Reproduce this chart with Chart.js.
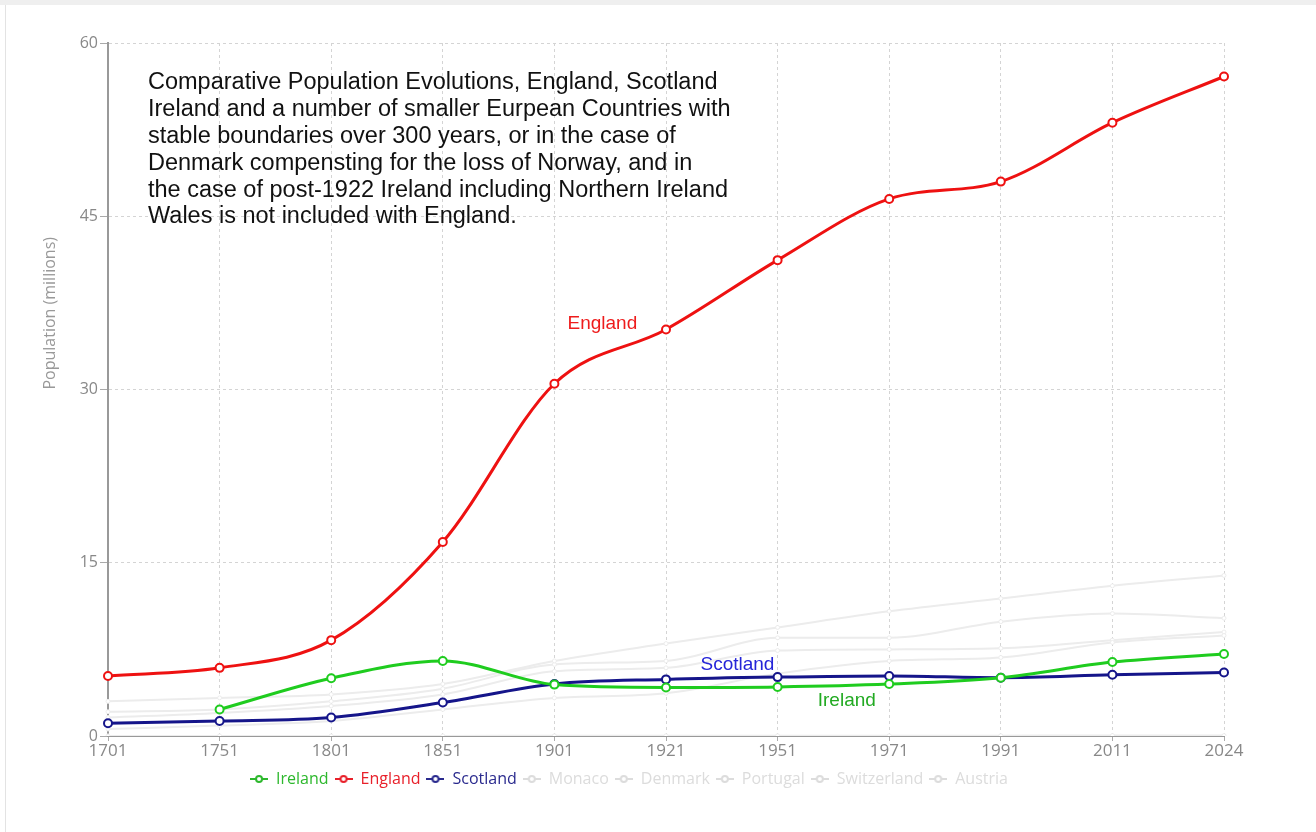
<!DOCTYPE html>
<html lang="en">
<head>
    <meta charset="UTF-8">
    <title>Comparative Population Evolutions</title>
    <script src="https://cdn.jsdelivr.net/npm/chart.js"></script>
    <style>
        body {
            margin: 0;
            padding: 0;
            background: #fff;
            font-family: 'Open Sans', sans-serif;
        }

        .top-band {
            position: absolute;
            top: 0;
            left: 0;
            width: 1316px;
            height: 5px;
            background: #efefef;
        }

        .left-line {
            position: absolute;
            top: 5px;
            left: 5px;
            width: 1px;
            height: 827px;
            background: #e3e3e3;
        }

        .chart-box {
            position: absolute;
            top: 0;
            left: 0;
            width: 1316px;
            height: 832px;
        }
    </style>
</head>
<body>
    <div class="top-band"></div>
    <div class="left-line"></div>
    <div class="chart-box">
        <canvas id="popChart" width="1316" height="832"></canvas>
    </div>

    <script>
        // census years (category axis, evenly spaced)
        const years = ['1701', '1751', '1801', '1851', '1901', '1921', '1951', '1971', '1991', '2011', '2024'];

        // population in millions
        const ireland  = [null, 2.3, 5.0, 6.5, 4.45, 4.2, 4.25, 4.5, 5.05, 6.4, 7.1];
        const england  = [5.2, 5.9, 8.3, 16.8, 30.5, 35.2, 41.2, 46.5, 48.0, 53.1, 57.1];
        const scotland = [1.1, 1.3, 1.6, 2.9, 4.5, 4.9, 5.1, 5.2, 5.05, 5.3, 5.5];
        const monaco      = [0.01, 0.01, 0.01, 0.01, 0.02, 0.02, 0.02, 0.02, 0.03, 0.04, 0.04];
        const denmark     = [3.0, 3.3, 3.6, 4.5, 6.5, 8.0, 9.4, 10.8, 11.9, 13.0, 13.9];
        const portugal    = [2.1, 2.3, 3.0, 4.1, 6.2, 6.5, 8.5, 8.5, 9.9, 10.6, 10.2];
        const switzerland = [0.6, 0.9, 1.3, 2.3, 3.3, 3.7, 5.4, 6.5, 6.8, 8.1, 8.7];
        const austria     = [1.6, 2.0, 2.6, 3.6, 5.6, 5.9, 7.4, 7.5, 7.6, 8.3, 9.0];

        const yTicks = [0, 15, 30, 45, 60];

        const titleLines = [
            'Comparative Population Evolutions, England, Scotland',
            'Ireland and a number of smaller Eurpean Countries with',
            'stable boundaries over 300 years, or in the case of',
            'Denmark compensting for the loss of Norway, and in',
            'the case of post-1922 Ireland including Northern Ireland',
            'Wales is not included with England.'
        ];

        // in-plot labels: [text, category index, value, colour]
        const lineLabels = [
            ['England', 4.43, 35.7, '#ee1c1c'],
            ['Scotland', 5.64, 6.2, '#2424d8'],
            ['Ireland', 6.62, 3.05, '#22aa22']
        ];

        const yTitle = 'Population (millions)';
        const faint = '#ececec';

        function seriesStyle(label, data, colour, legendColour, width) {
            return {
                label: label,
                data: data,
                borderColor: colour,
                backgroundColor: '#fff',
                borderWidth: width,
                pointRadius: width > 2 ? 4 : 2,
                pointBorderWidth: width > 2 ? 2 : 1,
                pointBorderColor: colour,
                pointBackgroundColor: '#fff',
                cubicInterpolationMode: 'monotone',
                spanGaps: false,
                legendColour: legendColour
            };
        }

        // little "-o-" marker used in the legend
        function legendIcon(colour) {
            const c = document.createElement('canvas');
            c.width = 18;
            c.height = 10;
            const g = c.getContext('2d');
            g.strokeStyle = colour;
            g.lineWidth = 2;
            g.beginPath();
            g.moveTo(0, 5);
            g.lineTo(18, 5);
            g.stroke();
            g.fillStyle = '#fff';
            g.beginPath();
            g.arc(9, 5, 3, 0, Math.PI * 2);
            g.fill();
            g.stroke();
            return c;
        }

        const textPlugin = {
            id: 'textPlugin',
            afterDatasetsDraw(chart) {
                const ctx = chart.ctx;
                const area = chart.chartArea;
                const x = chart.scales.x;
                const y = chart.scales.y;
                ctx.save();
                ctx.fillStyle = '#111';
                ctx.font = '23.5px "Liberation Sans", Arial, sans-serif';
                ctx.textAlign = 'left';
                ctx.textBaseline = 'middle';
                titleLines.forEach((line, i) => {
                    ctx.fillText(line, area.left + 40, area.top + 40 + i * 26.8);
                });
                ctx.font = '19px "Liberation Sans", Arial, sans-serif';
                ctx.textAlign = 'center';
                lineLabels.forEach(l => {
                    ctx.fillStyle = l[3];
                    ctx.fillText(l[0], x.getPixelForValue(l[1]), y.getPixelForValue(l[2]));
                });
                // axis title, sits a bit above the middle in the original
                ctx.translate(50, y.getPixelForValue(36.6));
                ctx.rotate(-Math.PI / 2);
                ctx.fillStyle = '#999';
                ctx.font = '16px "Open Sans", sans-serif';
                ctx.fillText(yTitle, 0, 0);
                ctx.restore();
            }
        };

        window.onload = function() {
            const ctx = document.getElementById('popChart').getContext('2d');

            window.chart = new Chart(ctx, {
                type: 'line',
                data: {
                    labels: years,
                    datasets: [
                        seriesStyle('Ireland', ireland, '#1fcc1f', '#2db82d', 3),
                        seriesStyle('England', england, '#ee1111', '#e8202a', 3),
                        seriesStyle('Scotland', scotland, '#15158a', '#2a2a8e', 3),
                        seriesStyle('Monaco', monaco, faint, '#dcdcdc', 2),
                        seriesStyle('Denmark', denmark, faint, '#dcdcdc', 2),
                        seriesStyle('Portugal', portugal, faint, '#dcdcdc', 2),
                        seriesStyle('Switzerland', switzerland, faint, '#dcdcdc', 2),
                        seriesStyle('Austria', austria, faint, '#dcdcdc', 2)
                    ]
                },
                options: {
                    responsive: false,
                    animation: false,
                    layout: {
                        padding: { top: 43, left: 34, right: 92, bottom: 35 }
                    },
                    plugins: {
                        tooltip: { enabled: false },
                        legend: {
                            position: 'bottom',
                            labels: {
                                usePointStyle: true,
                                pointStyleWidth: 18,
                                padding: 6,
                                font: { family: 'Open Sans', size: 16 },
                                generateLabels(chart) {
                                    return chart.data.datasets.map((ds, i) => ({
                                        text: ds.label,
                                        fontColor: ds.legendColour,
                                        pointStyle: legendIcon(ds.legendColour),
                                        strokeStyle: ds.legendColour,
                                        fillStyle: '#fff',
                                        lineWidth: 0,
                                        hidden: false,
                                        datasetIndex: i
                                    }));
                                }
                            }
                        }
                    },
                    scales: {
                        x: {
                            afterFit(axis) { axis.height = 29; },
                            grid: {
                                color: '#d4d4d4',
                                tickColor: '#aaa',
                                tickLength: 5
                            },
                            border: { color: '#999', width: 2, dash: [3, 3] },
                            ticks: {
                                color: '#888',
                                padding: 0,
                                maxRotation: 0,
                                autoSkip: false,
                                font: { family: 'Open Sans', size: 17 }
                            }
                        },
                        y: {
                            min: 0,
                            max: 60,
                            afterFit(axis) { axis.width = 74; },
                            afterBuildTicks(axis) {
                                axis.ticks = yTicks.map(v => ({ value: v }));
                            },
                            grid: {
                                color: '#d4d4d4',
                                tickColor: '#aaa',
                                tickLength: 8
                            },
                            border: { color: '#999', width: 2, dash: [3, 3] },
                            ticks: {
                                color: '#888',
                                padding: 2,
                                font: { family: 'Open Sans', size: 16 }
                            }
                        }
                    }
                },
                plugins: [textPlugin]
            });
        };
    </script>
</body>
</html>
